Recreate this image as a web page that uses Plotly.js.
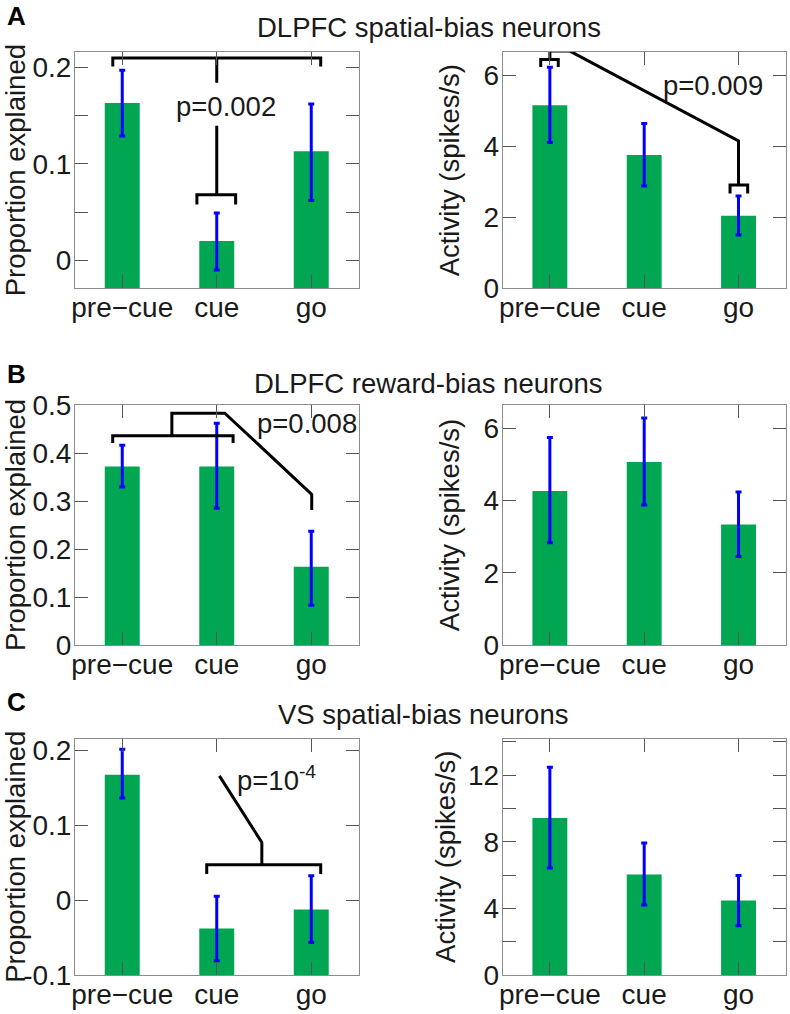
<!DOCTYPE html>
<html>
<head>
<meta charset="utf-8">
<script src="https://cdn.plot.ly/plotly-3.0.1.min.js"></script>
<style>html,body{margin:0;padding:0;background:#fff;}#chart{width:790px;height:1014px;}</style>
</head>
<body>
<div id="chart"></div>
<script>
// ---------- data ----------
const categories = ['pre\u2212cue', 'cue', 'go'];
const xpos = [1, 2, 3];

// Panel A: DLPFC spatial-bias neurons
const propA = [0.163, 0.020, 0.113];
const propA_errPlus = [0.034, 0.029, 0.049];
const propA_errMinus = [0.034, 0.030, 0.051];
const actA = [5.15, 3.75, 2.04];
const actA_errPlus = [1.07, 0.89, 0.56];
const actA_errMinus = [1.05, 0.87, 0.54];

// Panel B: DLPFC reward-bias neurons
const propB = [0.372, 0.372, 0.163];
const propB_errPlus = [0.044, 0.090, 0.074];
const propB_errMinus = [0.043, 0.087, 0.080];
const actB = [4.27, 5.07, 3.34];
const actB_errPlus = [1.48, 1.22, 0.90];
const actB_errMinus = [1.44, 1.19, 0.89];

// Panel C: VS spatial-bias neurons
const propC = [0.167, -0.038, -0.0125];
const propC_errPlus = [0.034, 0.043, 0.045];
const propC_errMinus = [0.031, 0.043, 0.044];
const actC = [9.42, 6.03, 4.47];
const actC_errPlus = [3.05, 1.89, 1.50];
const actC_errMinus = [3.00, 1.82, 1.51];

// tick positions and labels (unlabeled ticks have empty text)
const tickA_left_vals = [0, 0.05, 0.1, 0.15, 0.2];
const tickA_left_text = ['0', '', '0.1', '', '0.2'];
const tickAct_vals = [0, 2, 4, 6];
const tickAct_text = ['0', '2', '4', '6'];
const tickB_left_vals = [0, 0.1, 0.2, 0.3, 0.4, 0.5];
const tickB_left_text = ['0', '0.1', '0.2', '0.3', '0.4', '0.5'];
const tickC_left_vals = [-0.1, 0, 0.1, 0.2];
const tickC_left_text = ['-0.1', '0', '0.1', '0.2'];
const tickC_right_vals = [0, 2, 4, 6, 8, 10, 12, 14];
const tickC_right_text = ['0', '', '4', '', '8', '', '12', ''];

// significance brackets (data coordinates, null = pen up)
const brA_left_x = [0.9, 0.9, 3.1, 3.1, null, 2, 2, null, 2, 2, null, 1.79, 1.79, 2.2, 2.2];
const brA_left_y = [0.201, 0.2098, 0.2098, 0.201, null, 0.2098, 0.184, null, 0.1395, 0.068, null, 0.058, 0.068, 0.068, 0.058];
const brA_right_x = [0.903, 0.903, 1.089, 1.089, null, 1.0, 1.0, 1.213, 3.0, 3.0, null, 2.91, 2.91, 3.097, 3.097];
const brA_right_y = [6.23, 6.44, 6.44, 6.23, null, 6.44, 6.675, 6.675, 4.15, 2.906, null, 2.67, 2.906, 2.906, 2.67];
const brB_left_x = [0.899, 0.899, 2.173, 2.173, null, 1.525, 1.525, 2.085, 3.005, 3.005];
const brB_left_y = [0.421, 0.436, 0.436, 0.421, null, 0.436, 0.483, 0.483, 0.314, 0.281];
const brC_left_x = [1.894, 1.894, 3.10, 3.10, null, 2.477, 2.477, 2.028];
const brC_left_y = [0.0347, 0.047, 0.047, 0.0347, null, 0.047, 0.0768, 0.1657];

// ---------- styling ----------
const FONT = 'Liberation Sans, Arial, Helvetica, sans-serif';
const FS = 27.5;
const TFS = 28;
const GREEN = '#00a651';
const BLUE = '#0000ff';
const TXT = '#1a1a1a';
const W = 790, H = 1014;

const colX = { L: [75, 358.5], R: [502.7, 785.7] };
const rowY = { A: [52, 288.3], B: [405, 645], C: [738.5, 975] };
function xd(p) { return [p[0] / W, p[1] / W]; }
function yd(p) { return [1 - p[1] / H, 1 - p[0] / H]; }

const panels = [
  { ax: '', row: 'A', col: 'L', vals: propA, ep: propA_errPlus, em: propA_errMinus, range: [-0.029, 0.216], tv: tickA_left_vals, tt: tickA_left_text, title: 'Proportion explained', so: 6 },
  { ax: '2', row: 'A', col: 'R', vals: actA, ep: actA_errPlus, em: actA_errMinus, range: [0, 6.65], tv: tickAct_vals, tt: tickAct_text, title: 'Activity (spikes/s)', so: 15 },
  { ax: '3', row: 'B', col: 'L', vals: propB, ep: propB_errPlus, em: propB_errMinus, range: [0, 0.5], tv: tickB_left_vals, tt: tickB_left_text, title: 'Proportion explained', so: 6 },
  { ax: '4', row: 'B', col: 'R', vals: actB, ep: actB_errPlus, em: actB_errMinus, range: [0, 6.65], tv: tickAct_vals, tt: tickAct_text, title: 'Activity (spikes/s)', so: 15 },
  { ax: '5', row: 'C', col: 'L', vals: propC, ep: propC_errPlus, em: propC_errMinus, range: [-0.1, 0.2155], tv: tickC_left_vals, tt: tickC_left_text, title: 'Proportion explained', so: 6 },
  { ax: '6', row: 'C', col: 'R', vals: actC, ep: actC_errPlus, em: actC_errMinus, range: [0, 14.2], tv: tickC_right_vals, tt: tickC_right_text, title: 'Activity (spikes/s)', so: 4 }
];

const traces = [];
const layout = {
  width: W, height: H,
  margin: { l: 0, r: 0, t: 0, b: 0 },
  paper_bgcolor: '#fff', plot_bgcolor: '#fff',
  showlegend: false,
  font: { family: FONT, size: FS, color: TXT },
  annotations: []
};

panels.forEach(p => {
  const xa = 'x' + p.ax, ya = 'y' + p.ax;
  const base = p.range[0];
  traces.push({
    type: 'bar', x: xpos, y: p.vals.map(v => v - base), base: base,
    width: 0.37, marker: { color: GREEN, line: { width: 0 } },
    xaxis: xa, yaxis: ya, hoverinfo: 'skip'
  });
  traces.push({
    type: 'scatter', mode: 'markers', x: xpos, y: p.vals,
    marker: { size: 1, color: 'rgba(0,0,0,0)' },
    error_y: { type: 'data', symmetric: false, array: p.ep, arrayminus: p.em, color: BLUE, thickness: 3, width: 3 },
    xaxis: xa, yaxis: ya, hoverinfo: 'skip', cliponaxis: false
  });
  const common = {
    showline: true, linecolor: '#8c8c8c', linewidth: 1, mirror: 'allticks',
    ticks: 'inside', ticklen: 13, tickwidth: 1, tickcolor: '#555',
    showgrid: false, zeroline: false, fixedrange: true,
    tickfont: { family: FONT, size: TFS, color: TXT }
  };
  layout['xaxis' + p.ax] = Object.assign({}, common, {
    domain: xd(colX[p.col]), range: [0.5, 3.5], anchor: ya,
    tickmode: 'array', tickvals: xpos, ticktext: categories,
    ticklabelstandoff: -6
  });
  layout['yaxis' + p.ax] = Object.assign({}, common, {
    domain: yd(rowY[p.row]), range: p.range, anchor: xa,
    tickmode: 'array', tickvals: p.tv, ticktext: p.tt,
    ticklabelstandoff: -3,
    title: { text: p.title, font: { family: FONT, size: FS, color: TXT }, standoff: p.so }
  });
});

function bracket(xs, ys, ax) {
  traces.push({
    type: 'scatter', mode: 'lines', x: xs, y: ys, connectgaps: false,
    line: { color: '#000', width: 3 }, xaxis: 'x' + ax, yaxis: 'y' + ax,
    hoverinfo: 'skip', cliponaxis: false
  });
}
bracket(brA_left_x, brA_left_y, '');
bracket(brA_right_x, brA_right_y, '2');
bracket(brB_left_x, brB_left_y, '3');
bracket(brC_left_x, brC_left_y, '5');

function pText(text, x, y, ax) {
  layout.annotations.push({
    text: text, x: x, y: y, xref: 'x' + ax, yref: 'y' + ax,
    showarrow: false, xanchor: 'center', yanchor: 'middle',
    font: { family: FONT, size: FS, color: TXT }
  });
}
pText('p=0.002', 2.10, 0.160, '');
pText('p=0.009', 2.73, 5.72, '2');
pText('p=0.008', 2.96, 0.461, '3');
pText('p=10<sup>-4</sup>', 2.63, 0.162, '5');

function paperText(text, px, py, size, bold) {
  layout.annotations.push({
    text: bold ? '<b>' + text + '</b>' : text,
    x: px / W, y: 1 - py / H, xref: 'paper', yref: 'paper',
    showarrow: false, xanchor: 'center', yanchor: 'middle',
    font: { family: FONT, size: size, color: bold ? '#000' : TXT }
  });
}
paperText('DLPFC spatial-bias neurons', 428.5, 27, FS, false);
paperText('DLPFC reward-bias neurons', 428, 383, FS, false);
paperText('VS spatial-bias neurons', 423, 714, FS, false);
paperText('A', 16, 16, 26, true);
paperText('B', 16, 374, 26, true);
paperText('C', 16, 702, 26, true);

Plotly.newPlot('chart', traces, layout, { staticPlot: true, displayModeBar: false });
</script>
</body>
</html>
